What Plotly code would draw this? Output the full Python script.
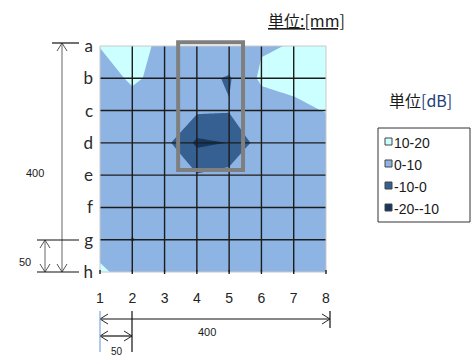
import plotly.graph_objects as go

# Measurement grid: columns 1-8, rows a-h (a at the top)
cols = [1, 2, 3, 4, 5, 6, 7, 8]
rows = ["a", "b", "c", "d", "e", "f", "g", "h"]

# Sound level [dB] at each grid node, one list per row
row_a = [10.2, 14.0, 7.3, 6.0, 8.0, 9.0, 10.5, 13.0]
row_b = [7.0, 11.0, 7.9, 3.0, -1.0, 11.85, 12.0, 12.0]
row_c = [6.0, 7.0, 6.0, 1.5, 0.7, 4.0, 8.4, 10.3]
row_d = [5.0, 5.0, 3.0, -12.0, -9.8, 5.0, 6.0, 6.0]
row_e = [5.0, 5.0, 5.0, 0.6, 3.3, 5.0, 5.0, 5.0]
row_f = [5.0, 5.0, 5.0, 5.0, 5.0, 5.0, 5.0, 5.0]
row_g = [7.5, -0.5, 5.0, 5.0, 5.0, 5.0, 5.0, 5.0]
row_h = [11.0, 7.7, 5.0, 5.0, 5.0, 5.0, 5.0, 5.0]
z = [row_a, row_b, row_c, row_d, row_e, row_f, row_g, row_h]

# Level bands (low -> high) and their fill colours
band_labels = ["-20--10", "-10-0", "0-10", "10-20"]
band_colors = ["#17375E", "#376092", "#8EB4E3", "#CCFFFF"]
levels = [-20, -10, 0, 10, 20]

row_idx = list(range(len(rows)))

# stepwise colour scale: one flat colour per 10 dB band
cscale = []
for i, c in enumerate(band_colors):
    cscale.append([i / 4, c])
    cscale.append([(i + 1) / 4, c])

fig = go.Figure()
fig.add_trace(go.Contour(
    x=cols, y=row_idx, z=z,
    zmin=levels[0], zmax=levels[-1], zauto=False,
    colorscale=cscale, showscale=False,
    contours=dict(start=levels[0], end=levels[-1], size=10, coloring="fill", showlines=False),
    line=dict(width=0, smoothing=0),
    hoverinfo="skip",
))

# plot-area geometry in pixels
L, R, T, B = 100, 326, 46, 272
W, H = R - L, B - T


def pxx(p):
    return (p - L) / W


def pxy(p):
    return (B - p) / H


def dx(v):
    return (v - cols[0]) / (cols[-1] - cols[0])


def dy(v):
    return 1 - (v - row_idx[0]) / (row_idx[-1] - row_idx[0])


shapes = []
# grid lines drawn over the filled contours
for c in cols[1:-1]:
    shapes.append(dict(type="line", xref="x", yref="y", x0=c, x1=c, y0=row_idx[0], y1=row_idx[-1],
                       line=dict(color="#1c1c1c", width=1.4), layer="above"))
for r in row_idx[1:-1]:
    shapes.append(dict(type="line", xref="x", yref="y", x0=cols[0], x1=cols[-1], y0=r, y1=r,
                       line=dict(color="#1c1c1c", width=1.4), layer="above"))
# light frame
shapes.append(dict(type="rect", xref="paper", yref="paper", x0=0, x1=1, y0=0, y1=1,
                   line=dict(color="#c8c8c8", width=1), layer="above"))
# short dark ticks under the bottom edge
for c in cols:
    shapes.append(dict(type="line", xref="paper", yref="paper", x0=dx(c), x1=dx(c),
                       y0=pxy(B - 2), y1=pxy(B + 2), line=dict(color="#1c1c1c", width=1.4)))

# highlight frame around columns 4-5, rows a-e
shapes.append(dict(type="rect", xref="paper", yref="paper",
                   x0=dx(3.42), x1=dx(5.43), y0=dy(3.84), y1=dy(-0.12),
                   line=dict(color="#7f7f7f", width=4), layer="above"))


def seg(x0, y0, x1, y1, color="#262626", width=1):
    shapes.append(dict(type="line", xref="paper", yref="paper",
                       x0=pxx(x0), x1=pxx(x1), y0=pxy(y0), y1=pxy(y1),
                       line=dict(color=color, width=width)))


def chevron(x, y, direction, color="#262626", size=8, half=5):
    # open arrow head with its tip at (x, y)
    if direction == "up":
        pts = [(x - half, y + size), (x + half, y + size)]
    elif direction == "down":
        pts = [(x - half, y - size), (x + half, y - size)]
    elif direction == "left":
        pts = [(x + size, y - half), (x + size, y + half)]
    else:
        pts = [(x - size, y - half), (x - size, y + half)]
    for p in pts:
        seg(x, y, p[0], p[1], color)


# vertical dimension, 400 mm
seg(62, 43, 62, 272, "#7f7f7f", 1.2)
chevron(62, 43, "up", "#555555")
chevron(62, 272, "down", "#555555")
seg(52, 43, 79, 43, "#111111", 1.2)
# vertical dimension, 50 mm
seg(45, 240, 45, 272, "#7f7f7f", 1.2)
chevron(45, 240, "up", "#555555")
chevron(45, 272, "down", "#555555")
seg(37, 240, 79, 240, "#111111", 1.2)
seg(37, 272, 79, 272, "#111111", 1.2)
# horizontal dimension, 400 mm
seg(100, 319, 330, 319, "#111111", 1.2)
chevron(100, 319, "left")
chevron(330, 319, "right")
seg(330, 311, 330, 328, "#111111", 1.2)
# horizontal dimension, 50 mm
seg(100, 336, 132, 336, "#111111", 1.2)
chevron(100, 336, "left")
chevron(132, 336, "right")
seg(100, 311, 100, 352, "#7fa6d8", 1.2)
seg(132, 311, 132, 352, "#111111", 1.2)

# legend box
LX0, LY0, LX1, LY1 = 378, 128, 470, 222
shapes.append(dict(type="rect", xref="paper", yref="paper",
                   x0=pxx(LX0), x1=pxx(LX1), y0=pxy(LY1), y1=pxy(LY0),
                   line=dict(color="#333333", width=1)))


def label(x, y, text, font, xanchor="center", yanchor="middle"):
    return dict(xref="paper", yref="paper", x=pxx(x), y=pxy(y), text=text, showarrow=False,
                xanchor=xanchor, yanchor=yanchor, font=font)


annotations = []
legend_font = dict(family="Liberation Sans", size=14, color="#1a1a1a")
for i, (lab, col) in enumerate(zip(reversed(band_labels), reversed(band_colors))):
    yc = 143 + i * 22
    shapes.append(dict(type="rect", xref="paper", yref="paper",
                       x0=pxx(385), x1=pxx(392), y0=pxy(yc - 5), y1=pxy(yc + 2),
                       fillcolor=col, line=dict(color="#444444", width=1)))
    annotations.append(label(392, yc, lab, legend_font, xanchor="left"))

ann_font = dict(family="Liberation Sans", size=11, color="#1a1a1a")
cjk_font = dict(family="Noto Sans CJK JP", size=16, color="#1a1a1a")
annotations += [
    label(35, 173, "400", ann_font),
    label(25, 262, "50", ann_font),
    label(207, 332, "400", ann_font),
    label(117, 344, "50", dict(family="Liberation Sans", size=10, color="#1a1a1a"), yanchor="top"),
    label(306, 20, "<u>単位:[mm]</u>", cjk_font),
    label(420, 100, "単位<span style='color:#1f3f7a'>[dB]</span>", cjk_font),
]

fig.update_layout(
    width=474, height=356,
    margin=dict(l=L, r=474 - R, t=T, b=356 - B, pad=0),
    paper_bgcolor="white", plot_bgcolor="white",
    showlegend=False,
    shapes=shapes, annotations=annotations,
    xaxis=dict(range=[cols[0], cols[-1]], tickvals=cols, ticktext=[str(c) for c in cols],
               showgrid=False, zeroline=False, ticks="", ticklabelstandoff=16,
               tickfont=dict(family="Liberation Sans", size=14, color="#222222"), fixedrange=True),
    yaxis=dict(range=[row_idx[-1], row_idx[0]], tickvals=row_idx, ticktext=rows,
               showgrid=False, zeroline=False, ticks="", ticklabelstandoff=6,
               tickfont=dict(family="Lato", size=17, color="#2a2a2a"), fixedrange=True),
)

fig.write_html("out.html")
